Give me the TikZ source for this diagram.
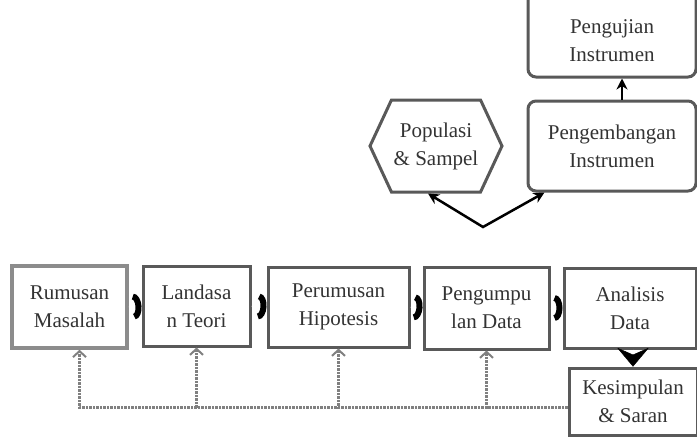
\documentclass[tikz,border=0pt]{standalone}
\usepackage{fontspec}
\setmainfont{Liberation Serif}
\usetikzlibrary{arrows.meta,shapes.symbols}
\tikzset{mybox/.style={draw=black!65,line width=3pt,fill=white,align=center,inner sep=0pt,text=black!80,font=\fontsize{21}{28}\selectfont},
myroundbox/.style={mybox,rounded corners=8pt},
myhex/.style={mybox,shape=signal,signal to=east and west,signal pointer angle=130},
mychevron/.style={white,line width=.5pt,-{Arc Barb[color=black,length=8pt,width=26pt,line width=6pt]}},
myfeedback/.style={black!50,densely dotted,line width=2.5pt,-{Straight Barb[length=6pt,width=13pt,line width=2pt]}},
mylink/.style={line width=2.5pt,{Stealth[length=11pt,width=11pt]}-{Stealth[length=11pt,width=11pt]}}}

\begin{document}
\begin{tikzpicture}[x=1pt,y=-1pt]
\clip (0,0) rectangle (697,437);
\fill[white] (0,0) rectangle (697,437);

\node[mybox,draw=black!45,line width=3.5pt,minimum width=115pt,minimum height=82pt] (rm) at (69.5,307) {Rumusan\\Masalah};
\node[mybox,minimum width=107pt,minimum height=80pt] (lt) at (196.5,306) {Landasa\\n Teori};
\node[mybox,minimum width=141pt,minimum height=80pt] (ph) at (338.5,307) {Perumusan\\Hipotesis};
\node[mybox,minimum width=125pt,minimum height=82pt] (pd) at (486.5,308) {Pengumpu\\lan Data};
\node[mybox,minimum width=132pt,minimum height=80pt] (ad) at (630,308) {Analisis\\Data};
\node[mybox,minimum width=128pt,minimum height=67pt] (ks) at (633,401.5) {Kesimpulan\\\& Saran};

\node[myhex,minimum width=132pt,minimum height=92pt] (ps) at (436,146) {Populasi\\\& Sampel};
\node[myroundbox,minimum width=168pt,minimum height=90pt] (pe) at (612,146) {Pengembangan\\Instrumen};
\node[myroundbox,minimum width=168pt,minimum height=86pt] (pj) at (612,34) {\rule{0pt}{28pt}Pengujian\\Instrumen};

\draw[mychevron] (rm.east) -- (lt.west);
\draw[mychevron] (lt.east) -- (ph.west);
\draw[mychevron] (ph.east) -- (pd.west);
\draw[mychevron] (pd.east) -- (ad.west);
\draw[white,line width=.5pt,-{Stealth[color=black,length=19pt,width=32pt,inset=7pt,round]}] (ks.north |- ad.south) -- (ks.north);

\draw[myfeedback] ([yshift=-6pt]ks.west) -| ([xshift=10pt]rm.south);
\foreach \b in {lt,ph,pd}{
\draw[myfeedback] ([yshift=-6pt]ks.west) -| (\b.south);
}

\draw[line width=2.5pt,-{Stealth[length=11pt,width=11pt]}] ([xshift=10pt]pe.north) -- ([xshift=10pt]pj.south);
\coordinate (split) at (483,227);
\draw[mylink] ([xshift=-8pt]ps.south) -- (split) -- ([xshift=18pt]pe.south west);
\end{tikzpicture}
\end{document}
